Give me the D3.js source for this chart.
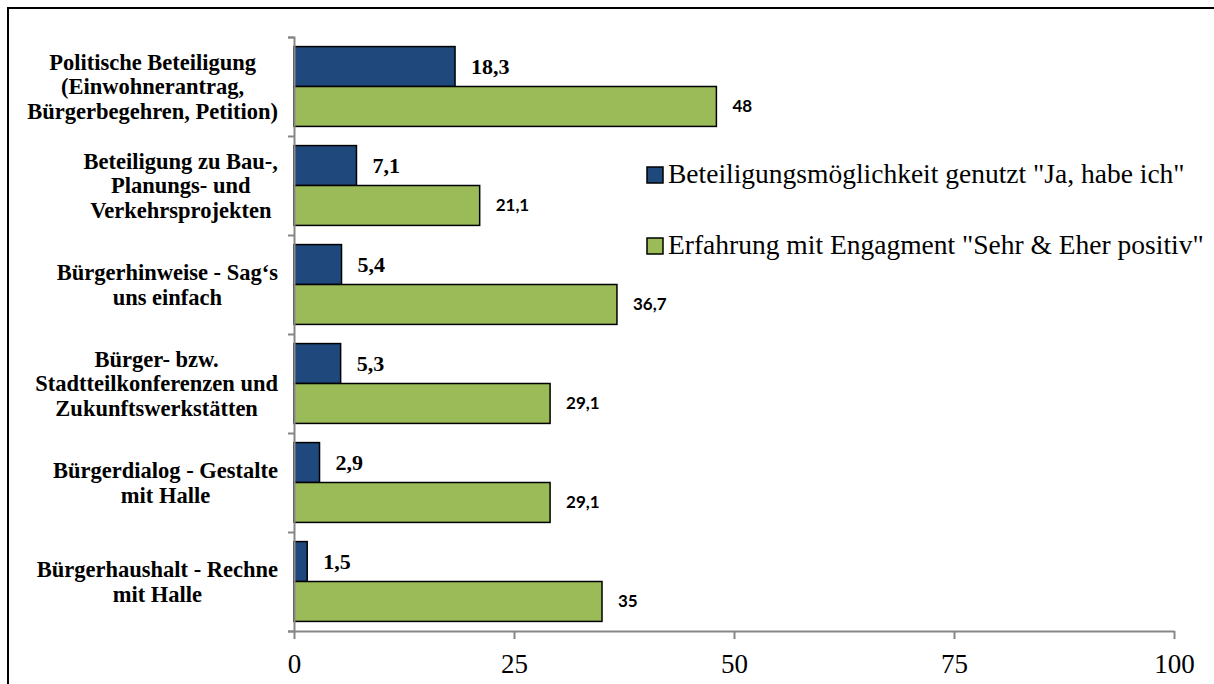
<!DOCTYPE html>
<html lang="de">
<head>
<meta charset="utf-8">
<title>Beteiligung und Erfahrung</title>
<script src="https://d3js.org/d3.v7.min.js"></script>
<style>
  body { margin: 0; background: #fff; }
  .axis path, .axis line { fill: none; stroke: #878787; stroke-width: 2; }
  .axis text { font-family: "Liberation Serif", serif; font-size: 27px; fill: #000; }
  .cat { font-family: "Liberation Serif", serif; font-weight: bold; font-size: 22.5px; fill: #000; }
  .val1 { font-family: "Liberation Serif", serif; font-weight: bold; font-size: 22px; fill: #000; }
  .val2 { font-family: Lato, sans-serif; font-weight: bold; font-size: 17px; fill: #000; }
  .legend text { font-family: "Liberation Serif", serif; font-size: 27.5px; fill: #000; }
</style>
</head>
<body>
<div id="chart"></div>
<script>
// categories, top to bottom
var categoryLines = [
  ["Politische Beteiligung", "(Einwohnerantrag,", "Bürgerbegehren, Petition)"],
  ["Beteiligung zu Bau-,", "Planungs- und", "Verkehrsprojekten"],
  ["Bürgerhinweise - Sag‘s", "uns einfach"],
  ["Bürger- bzw.", "Stadtteilkonferenzen und", "Zukunftswerkstätten"],
  ["Bürgerdialog - Gestalte", "mit Halle"],
  ["Bürgerhaushalt - Rechne", "mit Halle"]
]
var usedValues = [18.3, 7.1, 5.4, 5.3, 2.9, 1.5]
var positiveValues = [48, 21.1, 36.7, 29.1, 29.1, 35]
var seriesNames = [
  "Beteiligungsmöglichkeit genutzt \"Ja, habe ich\"",
  "Erfahrung mit Engagment \"Sehr & Eher positiv\""
]
var seriesColors = ["#1F497D", "#9BBB59"]
var xTicks = [0, 25, 50, 75, 100]

var w = 1214
var h = 684

var svg = d3.select("#chart").append("svg")
  .attr("width", w)
  .attr("height", h)

// outer frame (runs off the right and bottom)
svg.append("rect")
  .attr("x", 8).attr("y", 8)
  .attr("width", w + 20).attr("height", h + 20)
  .attr("fill", "none")
  .attr("stroke", "#000")
  .attr("stroke-width", 2)

var cats = categoryLines.map(function(d, i) { return i })

var xScale = d3.scaleLinear().domain([0, 100]).range([294, 1174])
var yScale = d3.scaleBand().domain(cats).range([37, 631]).padding(0)
var ySub = d3.scaleBand().domain([0, 1]).range([0, yScale.bandwidth()])
  .paddingOuter(0.24).paddingInner(0)

var de = d3.formatLocale({decimal: ",", thousands: ".", grouping: [3], currency: ["", " €"]})
var fmt = de.format("")

var rows = cats.map(function(i) {
  return [usedValues[i], positiveValues[i]]
})

// bars
var groups = svg.selectAll(".grp")
  .data(rows)
  .enter().append("g")
  .attr("class", "grp")
  .attr("transform", function(d, i) { return "translate(0," + yScale(i) + ")" })

groups.selectAll("rect")
  .data(function(d) { return d })
  .enter().append("rect")
  .attr("x", xScale(0))
  .attr("y", function(d, j) { return ySub(j) })
  .attr("width", function(d) { return xScale(d) - xScale(0) })
  .attr("height", ySub.bandwidth())
  .attr("fill", function(d, j) { return seriesColors[j] })
  .attr("stroke", "#000")
  .attr("stroke-width", 1.5)

groups.selectAll("text")
  .data(function(d) { return d })
  .enter().append("text")
  .attr("class", function(d, j) { return j == 0 ? "val1" : "val2" })
  .attr("x", function(d) { return xScale(d) + 16 })
  .attr("y", function(d, j) { return ySub(j) + ySub.bandwidth() / 2 })
  .attr("dy", "0.35em")
  .text(function(d) { return fmt(d) })

// axes
var yEdge = d3.scaleLinear().domain([0, cats.length]).range([37, 631])
svg.append("g")
  .attr("class", "axis")
  .attr("transform", "translate(" + xScale(0) + ",0)")
  .call(d3.axisLeft(yEdge).ticks(cats.length).tickFormat("").tickSize(6).tickSizeOuter(6))

svg.append("g")
  .attr("class", "axis")
  .attr("transform", "translate(0,631)")
  .call(d3.axisBottom(xScale).tickValues(xTicks).tickSize(8).tickSizeOuter(0).tickPadding(15))

// category labels: block right-aligned, lines centered inside the block
var lineH = 24.5
var blockRight = 278
categoryLines.forEach(function(lines, i) {
  var g = svg.append("g")
  var cy = yScale(i) + yScale.bandwidth() / 2
  var texts = lines.map(function(s, k) {
    return g.append("text")
      .attr("class", "cat")
      .attr("text-anchor", "middle")
      .attr("y", cy + (k - (lines.length - 1) / 2) * lineH)
      .attr("dy", "0.35em")
      .text(s)
  })
  var maxW = d3.max(texts, function(t) { return t.node().getComputedTextLength() })
  texts.forEach(function(t) { t.attr("x", blockRight - maxW / 2) })
})

// legend
var legend = svg.append("g").attr("class", "legend")
var legendBase = [183, 254]
seriesNames.forEach(function(name, j) {
  legend.append("rect")
    .attr("x", 647).attr("y", legendBase[j] - 16)
    .attr("width", 16).attr("height", 16)
    .attr("fill", seriesColors[j])
    .attr("stroke", "#000")
    .attr("stroke-width", 1.5)
  legend.append("text")
    .attr("x", 668)
    .attr("y", legendBase[j])
    .text(name)
})
</script>
</body>
</html>
